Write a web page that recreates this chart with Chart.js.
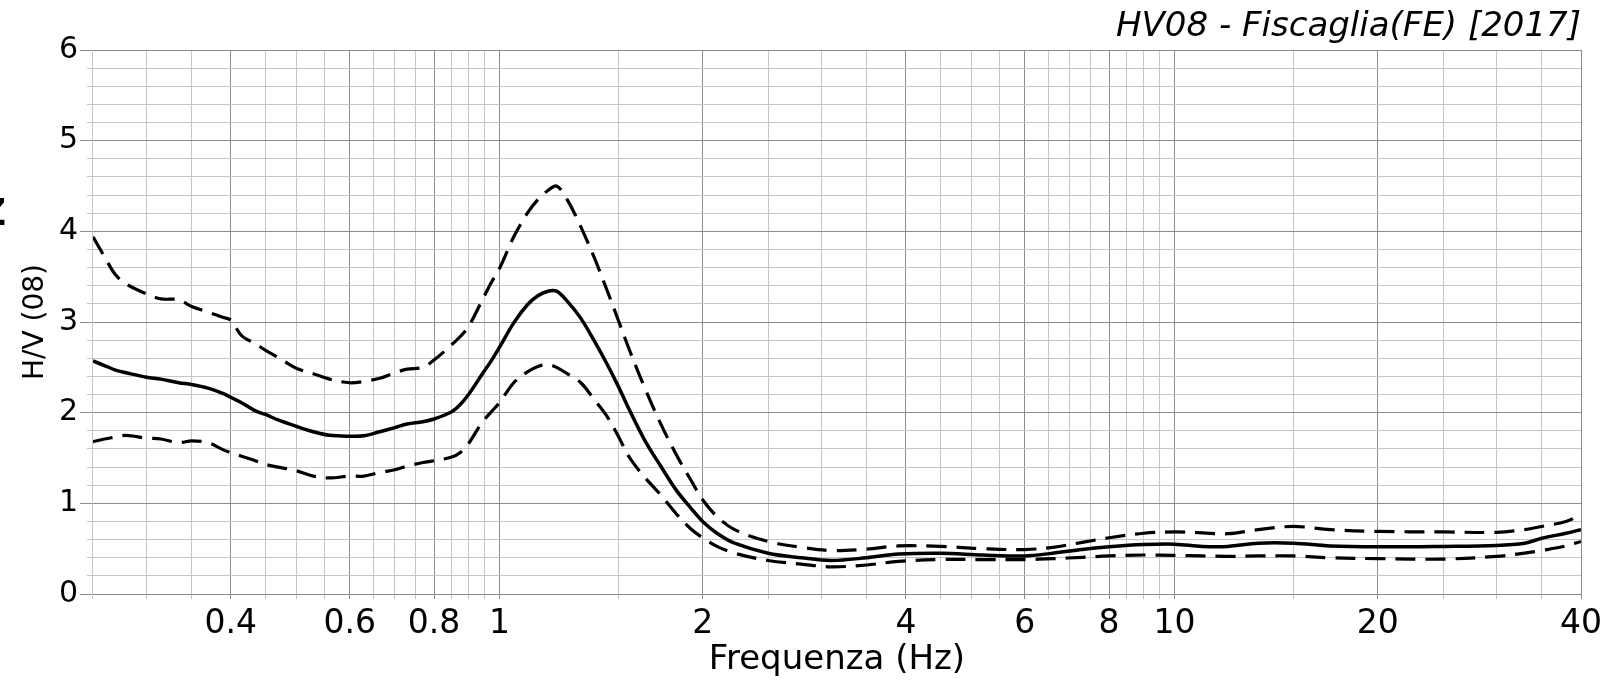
<!DOCTYPE html>
<html><head><meta charset="utf-8">
<script src="https://cdn.jsdelivr.net/npm/chart.js@4/dist/chart.umd.min.js"></script>
<style>html,body{margin:0;padding:0;background:#fff;overflow:hidden}canvas{display:block}</style>
</head><body>
<canvas id="c" width="1624" height="682"></canvas>
<script>
// ---- data ----
const frequencies = [0.25,0.26,0.27,0.28,0.30,0.315,0.335,0.35,0.37,0.39,0.40,0.415,0.435,0.45,0.47,0.50,0.53,0.56,0.60,0.63,0.665,0.70,0.73,0.77,0.80,0.85,0.875,0.90,0.94,0.97,1.0,1.05,1.10,1.14,1.18,1.215,1.26,1.32,1.38,1.44,1.50,1.56,1.64,1.73,1.83,1.92,2.0,2.1,2.23,2.5,2.8,3.1,3.5,3.9,4.5,5.2,6.0,6.6,7.3,8.0,9.0,10,11,12,13.3,15,17,20,25,30,33,35,38,40];
const hvMedian = [2.57,2.52,2.47,2.44,2.39,2.37,2.33,2.31,2.27,2.21,2.17,2.11,2.02,1.98,1.92,1.85,1.79,1.75,1.74,1.745,1.79,1.835,1.875,1.90,1.93,2.01,2.09,2.20,2.41,2.56,2.72,2.99,3.19,3.29,3.34,3.34,3.23,3.04,2.80,2.55,2.29,2.02,1.70,1.42,1.14,0.95,0.80,0.67,0.56,0.45,0.40,0.37,0.40,0.44,0.45,0.43,0.42,0.45,0.49,0.52,0.545,0.55,0.525,0.525,0.56,0.56,0.53,0.52,0.525,0.535,0.56,0.615,0.67,0.71];
const hvUpper = [3.94,3.72,3.52,3.42,3.31,3.255,3.245,3.17,3.11,3.05,3.02,2.85,2.76,2.69,2.61,2.49,2.43,2.37,2.33,2.345,2.38,2.44,2.48,2.50,2.58,2.75,2.84,2.95,3.22,3.42,3.59,3.94,4.20,4.35,4.45,4.50,4.35,4.05,3.72,3.37,3.02,2.68,2.28,1.89,1.53,1.26,1.04,0.855,0.71,0.58,0.515,0.48,0.495,0.53,0.525,0.50,0.49,0.515,0.57,0.62,0.67,0.685,0.675,0.665,0.71,0.745,0.71,0.69,0.685,0.68,0.71,0.745,0.80,0.875];
const hvLower = [1.68,1.71,1.73,1.75,1.72,1.71,1.67,1.69,1.67,1.59,1.56,1.52,1.47,1.43,1.40,1.36,1.30,1.28,1.30,1.30,1.34,1.37,1.41,1.45,1.47,1.51,1.56,1.66,1.88,2.0,2.11,2.33,2.45,2.51,2.53,2.50,2.43,2.33,2.15,1.97,1.74,1.50,1.29,1.10,0.88,0.72,0.62,0.525,0.45,0.37,0.33,0.30,0.32,0.36,0.38,0.38,0.38,0.39,0.405,0.42,0.43,0.425,0.42,0.415,0.42,0.42,0.40,0.39,0.385,0.415,0.45,0.48,0.53,0.58];

const xGridValues = [0.25,0.3,0.35,0.4,0.45,0.5,0.55,0.6,0.65,0.7,0.75,0.8,0.85,0.9,0.95,1,1.5,2,2.5,3,3.5,4,4.5,5,5.5,6,6.5,7,7.5,8,8.5,9,9.5,10,15,20,25,30,35,40];
const xLabelValues = [0.4,0.6,0.8,1,2,4,6,8,10,20,40];
const yGridValues = [0,0.2,0.4,0.6,0.8,1,1.2,1.4,1.6,1.8,2,2.2,2.4,2.6,2.8,3,3.2,3.4,3.6,3.8,4,4.2,4.4,4.6,4.8,5,5.2,5.4,5.6,5.8,6];
const yLabelValues = [0,1,2,3,4,5,6];

const chartTitle = 'HV08 - Fiscaglia(FE) [2017]';
const xAxisTitle = 'Frequenza (Hz)';
const yAxisTitle = 'H/V (08)';
const edgeText = 'Z';

// ---- styling ----
const MAJOR = '#8c8c8c';
const MINOR = '#c6c6c6';
const FONT = '"DejaVu Sans", Verdana, sans-serif';

const toPoints = (vals) => frequencies.map((f, i) => ({x: f, y: vals[i]}));

const edgeGlyph = {
  id: 'edgeGlyph',
  afterDraw(chart) {
    const c = chart.ctx;
    c.save();
    c.font = 'bold 37px ' + FONT;
    c.fillStyle = '#000';
    c.textAlign = 'right';
    c.textBaseline = 'alphabetic';
    c.fillText(edgeText, 6, 225);
    c.restore();
  }
};

Chart.defaults.font.family = FONT;
Chart.defaults.color = '#000';

new Chart(document.getElementById('c'), {
  type: 'line',
  data: {
    datasets: [
      {label: 'upper', data: toPoints(hvUpper), borderColor: '#000', borderWidth: 3.2, borderDash: [20, 10], pointRadius: 0, tension: 0.35, fill: false},
      {label: 'lower', data: toPoints(hvLower), borderColor: '#000', borderWidth: 3.2, borderDash: [20, 10], pointRadius: 0, tension: 0.35, fill: false},
      {label: 'median', data: toPoints(hvMedian), borderColor: '#000', borderWidth: 3.5, pointRadius: 0, tension: 0.35, fill: false}
    ]
  },
  options: {
    responsive: false,
    animation: false,
    events: [],
    layout: {padding: {left: 16, right: 43, top: 0, bottom: 4.75}},
    plugins: {
      legend: {display: false},
      tooltip: {enabled: false},
      title: {
        display: true, text: chartTitle, align: 'end', color: '#000',
        font: {family: FONT, size: 34, style: 'italic', weight: 'normal', lineHeight: 1.2},
        padding: {top: 6.8, bottom: 2.4}
      }
    },
    scales: {
      x: {
        type: 'logarithmic', position: 'bottom', min: 0.25, max: 40,
        afterBuildTicks: (s) => { s.ticks = xGridValues.map(v => ({value: v})); },
        ticks: {
          autoSkip: false, maxRotation: 0, minRotation: 0, padding: 1.5, color: '#000',
          font: {family: FONT, size: 33, lineHeight: 1.462},
          callback: (v) => xLabelValues.includes(v) ? String(v) : ''
        },
        grid: {
          drawOnChartArea: true, drawTicks: true, tickLength: 5, lineWidth: 1,
          color: (c) => (c.tick && xLabelValues.includes(c.tick.value)) ? MAJOR : MINOR,
          tickColor: (c) => (c.tick && xLabelValues.includes(c.tick.value)) ? MAJOR : MINOR
        },
        border: {display: true, color: MAJOR, width: 1},
        title: {display: true, text: xAxisTitle, color: '#000', font: {family: FONT, size: 34, lineHeight: 1.0}, padding: {top: -7, bottom: 0}}
      },
      yMinor: {
        type: 'linear', position: 'left', min: 0, max: 6, weight: 0,
        afterBuildTicks: (s) => { s.ticks = yGridValues.map(v => ({value: v})); },
        ticks: {display: false},
        grid: {
          drawOnChartArea: true, drawTicks: true, tickLength: 6, lineWidth: 1,
          color: (c) => (c.tick && yLabelValues.includes(c.tick.value)) ? MAJOR : MINOR,
          tickColor: (c) => (c.tick && yLabelValues.includes(c.tick.value)) ? MAJOR : MINOR
        },
        border: {display: true, color: MINOR, width: 1}
      },
      y: {
        type: 'linear', position: 'left', min: 0, max: 6, weight: 1,
        afterBuildTicks: (s) => { s.ticks = yLabelValues.map(v => ({value: v})); },
        ticks: {padding: 2, color: '#000', font: {family: FONT, size: 30, lineHeight: 1.2}, callback: (v) => String(v)},
        grid: {drawOnChartArea: false, drawTicks: true, tickLength: 7, tickColor: MAJOR, lineWidth: 1},
        border: {display: false},
        title: {display: true, text: yAxisTitle, color: '#000', font: {family: FONT, size: 28, lineHeight: 1.2}, padding: {top: 3, bottom: 4.3}}
      }
    }
  },
  plugins: [edgeGlyph]
});
</script>
</body></html>
